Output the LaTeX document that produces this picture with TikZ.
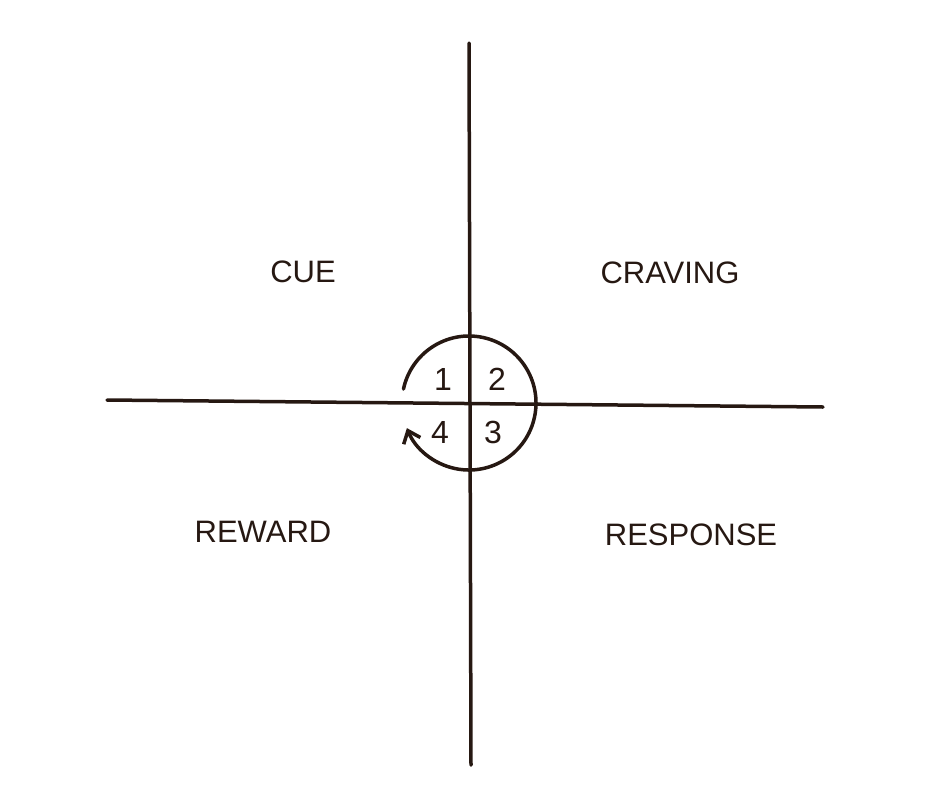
\documentclass[tikz,border=0pt]{standalone}
\usepackage{fontspec}
\setmainfont{Liberation Sans}
\usetikzlibrary{arrows.meta,calc}
\definecolor{ink}{HTML}{261812}
\tikzset{
  pen/.style={draw=ink, line width=3.5pt, line cap=round},
  lbl/.style={text=ink, font=\fontsize{31}{34}\selectfont, inner sep=0pt},
  num/.style={text=ink, font=\fontsize{32}{34}\selectfont, inner sep=0pt}
}
\begin{document}
\begin{tikzpicture}[x=1pt,y=-1pt]
\useasboundingbox (0,0) rectangle (943,793);
\coordinate (L) at (107,400);
\coordinate (R) at (823,407);
\coordinate (T) at (469,43);
\coordinate (B) at (471,765);
\coordinate (C) at (469,403);
\draw[pen] (L) -- (R);
\draw[pen] (T) -- (B);
\coordinate (s) at ($(C)+(-168:67)$);
\draw[pen, -{Straight Barb[length=11pt,width=18pt]}] (s) arc[start angle=-168, end angle=158, radius=67];
\node[lbl] (cue) at (303,272) {CUE};
\node[lbl] (crav) at (670,273) {CRAVING};
\node[lbl] (rew) at (263,532) {REWARD};
\node[lbl] (resp) at (691,535) {RESPONSE};
\node[num] (n1) at (443,379) {1};
\node[num] (n2) at (497,379) {2};
\node[num] (n3) at (493,432) {3};
\node[num] (n4) at (440,432) {4};
\end{tikzpicture}
\end{document}
